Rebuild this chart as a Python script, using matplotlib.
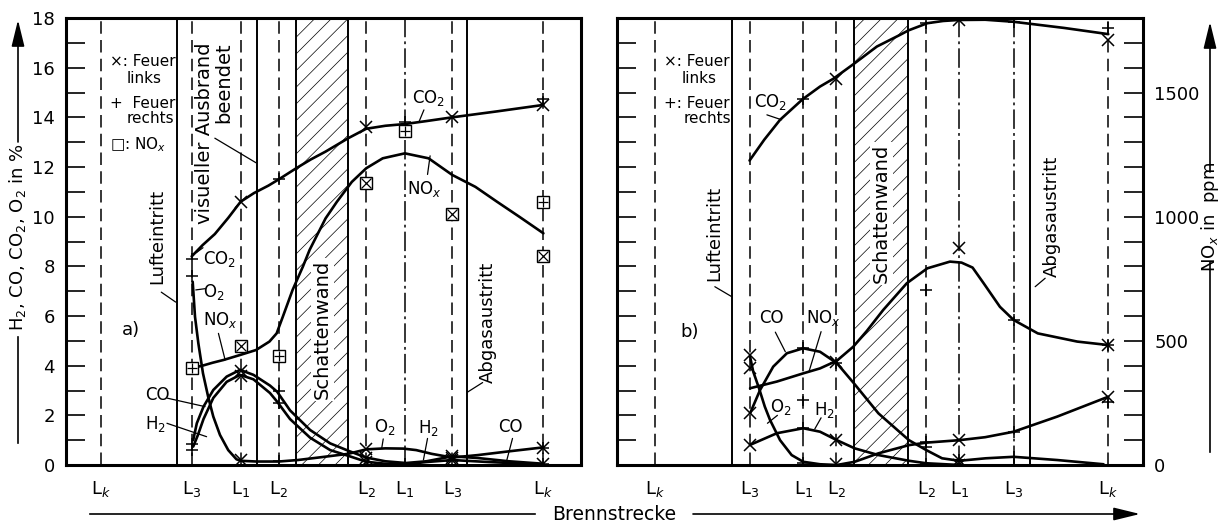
import matplotlib
matplotlib.use("Agg")
import matplotlib.pyplot as plt
from matplotlib.lines import Line2D
from matplotlib.patches import FancyArrowPatch

plt.rcParams["font.family"] = ["DejaVu Sans"]
plt.rcParams["hatch.linewidth"] = 0.5
plt.rcParams["lines.scale_dashes"] = False

# measuring stations along the Brennstrecke (box width = 0..100)
st_names = ["L$_k$", "L$_3$", "L$_1$", "L$_2$", "L$_2$", "L$_1$", "L$_3$", "L$_k$"]
st_a = [6.8, 24.4, 33.9, 41.3, 58.3, 65.8, 75.0, 92.7]
st_b = [7.3, 25.2, 35.4, 41.7, 58.8, 65.1, 75.4, 93.4]

luft_a, vis_a, abgas_a, wall_a = 21.5, 37.1, 77.9, (44.7, 54.8)
luft_b, abgas_b, wall_b = 21.9, 78.5, (45.1, 55.4)

# ---- a) curves, % (NOx in ppm)
co2_a_x = [24.4, 26.5, 28.9, 31.5, 33.9, 36.5, 39.3, 41.3, 44.7, 47.5, 50.4, 54.8, 58.3, 62.0, 65.8, 70.0, 75.0, 83.7, 92.7]
co2_a_y = [8.4, 8.85, 9.3, 9.95, 10.6, 10.95, 11.25, 11.5, 11.95, 12.3, 12.62, 13.16, 13.54, 13.66, 13.73, 13.85, 14.0, 14.24, 14.5]
nox_a_x = [24.4, 26.5, 28.5, 30.6, 33.8, 36.9, 39.5, 40.9, 42.1, 44.0, 46.0, 47.3, 50.4, 52.6, 55.5, 58.3, 61.5, 65.8, 70.4, 75.0, 79.5, 83.7, 88.0, 92.7]
nox_a_y = [390, 400, 412, 423, 443, 463, 497, 530, 597, 705, 799, 866, 993, 1060, 1140, 1195, 1235, 1255, 1235, 1168, 1120, 1060, 1000, 933]
o2_a_x = [24.6, 25.05, 25.7, 26.6, 27.6, 28.6, 29.9, 31.5, 33.1, 33.9, 37.0, 41.3, 45.0, 49.0, 54.8, 58.3, 62.0, 65.5, 68.0, 71.0, 75.0, 80.0, 86.0, 92.7]
o2_a_y = [7.38, 5.97, 4.9, 3.69, 2.75, 1.95, 1.21, 0.6, 0.23, 0.17, 0.14, 0.14, 0.2, 0.3, 0.45, 0.63, 0.67, 0.66, 0.6, 0.45, 0.3, 0.4, 0.55, 0.71]
co_a_x = [24.7, 25.4, 26.7, 28.6, 31.2, 33.8, 36.4, 39.6, 41.0, 43.5, 47.4, 51.3, 55.1, 58.3, 62.0, 66.0, 70.0, 75.0, 80.0, 86.0, 92.7]
co_a_y = [1.0, 1.68, 2.35, 3.02, 3.56, 3.83, 3.63, 3.2, 2.95, 2.2, 1.41, 0.87, 0.55, 0.3, 0.15, 0.08, 0.15, 0.35, 0.28, 0.15, 0.05]
h2_a_x = [24.7, 25.6, 26.7, 28.6, 31.2, 33.8, 36.4, 39.6, 41.0, 43.5, 47.4, 51.3, 55.1, 58.3, 62.0, 66.0, 70.0, 75.0, 82.0, 92.7]
h2_a_y = [0.74, 1.2, 1.85, 2.7, 3.35, 3.63, 3.45, 2.9, 2.55, 1.85, 1.1, 0.6, 0.35, 0.13, 0.05, 0.03, 0.12, 0.2, 0.12, 0.02]

# a) measured points: station index + value
a_links_st = [2, 2, 2, 2, 4, 4, 4, 4, 6, 6, 6, 6, 7, 7, 7]
a_links_val = [10.6, 3.8, 3.6, 0.2, 13.6, 0.63, 0.28, 0.13, 14.0, 0.35, 0.27, 0.2, 14.5, 0.7, 0.05]
a_rechts_st = [1, 1, 1, 1, 3, 3, 3, 3, 5, 5, 7, 7, 7]
a_rechts_val = [8.3, 7.6, 0.85, 0.6, 11.5, 3.0, 2.5, 0.15, 13.8, 0.05, 14.75, 0.7, 0.05]
a_nox_links_st = [2, 4, 6, 7]
a_nox_links_val = [480, 1135, 1010, 840]
a_nox_rechts_st = [1, 3, 5, 7]
a_nox_rechts_val = [390, 440, 1345, 1060]

# ---- b) curves
co2_b_x = [25.2, 28.0, 31.0, 35.3, 38.6, 41.1, 45.2, 49.4, 53.8, 55.4, 59.0, 62.0, 64.9, 70.0, 75.3, 85.0, 93.4]
co2_b_y = [12.26, 13.1, 13.9, 14.73, 15.24, 15.55, 16.18, 16.85, 17.32, 17.5, 17.79, 17.88, 17.92, 17.93, 17.85, 17.6, 17.35]
nox_b_x = [25.3, 30.4, 35.4, 38.6, 41.8, 44.9, 47.5, 50.6, 55.1, 59.0, 63.3, 65.5, 67.6, 69.7, 72.8, 75.4, 80.0, 87.5, 93.4]
nox_b_y = [309, 336, 369, 389, 420, 476, 540, 624, 732, 792, 819, 815, 795, 732, 637, 584, 530, 497, 483]
co_b_x = [25.3, 27.2, 29.7, 32.3, 35.4, 38.6, 41.8, 45.0, 49.7, 55.5, 58.8, 61.8, 65.1, 70.1, 75.4, 83.7, 92.5]
co_b_y = [2.08, 3.02, 3.96, 4.5, 4.7, 4.56, 4.1, 3.3, 2.08, 1.0, 0.6, 0.27, 0.17, 0.27, 0.33, 0.2, 0.03]
o2_b_x = [25.3, 25.9, 27.0, 28.1, 29.1, 31.0, 33.2, 35.4, 38.6, 41.8, 45.2, 49.7, 55.5, 58.8, 65.1, 70.0, 75.4, 83.7, 93.4]
o2_b_y = [4.36, 3.76, 3.09, 2.35, 1.81, 1.0, 0.4, 0.13, 0.03, 0.0, 0.13, 0.47, 0.8, 0.9, 1.0, 1.12, 1.34, 1.95, 2.75]
h2_b_x = [25.3, 30.4, 35.4, 38.6, 41.8, 45.2, 49.7, 55.5, 58.8, 65.1]
h2_b_y = [0.81, 1.28, 1.48, 1.34, 1.0, 0.67, 0.4, 0.17, 0.07, 0.0]

b_links_st = [1, 1, 1, 1, 3, 3, 3, 3, 5, 5, 5, 5, 7, 7]
b_links_val = [4.43, 3.89, 2.08, 0.81, 15.55, 4.15, 1.0, 0.05, 17.92, 1.0, 0.2, 0.02, 17.12, 2.75]
b_rechts_st = [2, 2, 2, 2, 2, 3, 4, 4, 4, 4, 5, 6, 6, 6, 6, 7, 7]
b_rechts_val = [14.73, 4.7, 2.62, 1.48, 0.1, 4.1, 17.79, 0.94, 0.74, 0.03, 0.2, 17.85, 1.34, 0.33, 0.0, 17.58, 2.55]
b_nox_links_st = [5, 7]
b_nox_links_val = [873, 483]
b_nox_rechts_st = [4, 6, 7]
b_nox_rechts_val = [705, 584, 483]

DASH = (0, (9, 4.5))
DASHDOT = (0, (14, 3, 2, 3))


def lead(ax, p0, p1):
    ax.annotate("", xy=p1, xytext=p0,
                arrowprops=dict(arrowstyle="-", lw=0.9, color="k", shrinkA=0, shrinkB=0))


def frame(ax, st, luft, abgas, wall, dashdot):
    ax.set_xlim(0, 100)
    ax.set_ylim(0, 18)
    ax.set_yticks(range(0, 19, 2))
    ax.set_yticks(range(1, 18, 2), minor=True)
    ax.tick_params(axis="y", which="both", direction="in", length=14, width=1.2,
                   left=True, right=True, labelsize=13, pad=8)
    ax.set_xticks(st)
    ax.set_xticklabels(st_names)
    ax.tick_params(axis="x", length=0, pad=10, labelsize=13)
    for s in ax.spines.values():
        s.set_linewidth(2.2)
    for i, x in enumerate(st):
        ax.axvline(x, color="k", lw=1.1, ls=DASHDOT if i in dashdot else DASH, zorder=1)
    for x in (luft, abgas):
        ax.axvline(x, color="k", lw=1.4, zorder=1)
    ax.axvspan(wall[0], wall[1], facecolor="none", edgecolor="k", hatch="//", lw=1.4, zorder=1)


def curve(ax, x, y):
    ax.plot(x, y, color="k", lw=1.9, solid_joinstyle="round", solid_capstyle="round", zorder=3)


def points(ax, st, idx, vals, marker, ms=8):
    ax.plot([st[i] for i in idx], vals, ls="none", marker=marker, ms=ms, mew=1.1,
            color="k", mfc="none", zorder=4)


def boxed(ax, st, idx, vals, inner):
    xs = [st[i] for i in idx]
    ax.plot(xs, vals, ls="none", marker="s", ms=9, mew=1.0, color="k", mfc="white", zorder=4)
    ax.plot(xs, vals, ls="none", marker=inner, ms=6.5, mew=0.9, color="k", zorder=5)


fig = plt.figure(figsize=(12.25, 5.25), dpi=100)
ax_a = fig.add_axes([66 / 1225, 60 / 525, 515 / 1225, 447 / 525])
ax_b = fig.add_axes([617 / 1225, 60 / 525, 526 / 1225, 447 / 525])

# ---------------- a)
frame(ax_a, st_a, luft_a, abgas_a, wall_a, dashdot=[5])
ax_a.axvline(vis_a, color="k", lw=1.4, zorder=1)
ta = ax_a.twinx()
ta.set_ylim(0, 1800)
ta.set_yticks([])
for s in ta.spines.values():
    s.set_visible(False)

curve(ax_a, co2_a_x, co2_a_y)
curve(ax_a, o2_a_x, o2_a_y)
curve(ax_a, co_a_x, co_a_y)
curve(ax_a, h2_a_x, h2_a_y)
curve(ta, nox_a_x, nox_a_y)
points(ax_a, st_a, a_links_st, a_links_val, "x")
points(ax_a, st_a, a_rechts_st, a_rechts_val, "+", ms=9)
boxed(ta, st_a, a_nox_links_st, a_nox_links_val, "x")
boxed(ta, st_a, a_nox_rechts_st, a_nox_rechts_val, "+")

ax_a.text(8.5, 16.24, "×: Feuer", fontsize=11, va="center")
ax_a.text(11.8, 15.57, "links", fontsize=11, va="center")
ax_a.text(8.5, 14.57, "+  Feuer", fontsize=11, va="center")
ax_a.text(11.8, 13.96, "rechts", fontsize=11, va="center")
ax_a.text(8.5, 12.89, "□: NO$_x$", fontsize=11, va="center")
ax_a.text(28.8, 17.0, "visueller Ausbrand\nbeendet", rotation=90, ha="center", va="top",
          multialignment="right", fontsize=14, linespacing=1.0)
lead(ax_a, (28.9, 13.16), (36.9, 12.17))
ax_a.text(17.8, 7.3, "Lufteintritt", rotation=90, ha="center", va="bottom", fontsize=13)
lead(ax_a, (18.5, 6.96), (21.3, 6.56))
ax_a.text(12.6, 5.44, "a)", fontsize=13, ha="center", va="center")
ax_a.text(29.9, 8.3, "CO$_2$", fontsize=12, ha="center", va="center")
lead(ax_a, (25.3, 8.55), (26.6, 8.75))
ax_a.text(28.6, 6.98, "O$_2$", fontsize=12, ha="center", va="center")
lead(ax_a, (25.2, 7.05), (27.0, 7.1))
ax_a.text(29.9, 5.84, "NO$_x$", fontsize=12, ha="center", va="center")
lead(ax_a, (29.6, 5.3), (30.9, 4.23))
ax_a.text(17.8, 2.81, "CO", fontsize=12, ha="center", va="center")
lead(ax_a, (19.7, 2.69), (27.0, 2.35))
ax_a.text(17.4, 1.67, "H$_2$", fontsize=12, ha="center", va="center")
lead(ax_a, (19.6, 1.68), (27.3, 1.14))
ax_a.text(49.75, 5.45, "Schattenwand", rotation=90, ha="center", va="center", fontsize=14,
          zorder=2, bbox=dict(boxstyle="square,pad=0.1", fc="white", ec="none"))
ax_a.text(70.4, 14.77, "CO$_2$", fontsize=12, ha="center", va="center")
lead(ax_a, (69.5, 14.3), (68.5, 13.8))
ax_a.text(69.5, 11.1, "NO$_x$", fontsize=12, ha="center", va="center")
lead(ax_a, (70.2, 11.7), (70.7, 12.45))
ax_a.text(81.9, 3.3, "Abgasaustritt", rotation=90, ha="center", va="bottom", fontsize=13)
lead(ax_a, (78.0, 2.94), (80.9, 3.32))
ax_a.text(61.9, 1.54, "O$_2$", fontsize=12, ha="center", va="center")
lead(ax_a, (61.6, 1.05), (61.3, 0.67))
ax_a.text(70.4, 1.48, "H$_2$", fontsize=12, ha="center", va="center")
lead(ax_a, (70.2, 1.07), (69.4, 0.2))
ax_a.text(86.2, 1.54, "CO", fontsize=12, ha="center", va="center")
lead(ax_a, (86.7, 1.07), (85.6, 0.2))

# ---------------- b)
frame(ax_b, st_b, luft_b, abgas_b, wall_b, dashdot=[5, 6])
ax_b.tick_params(axis="y", which="both", labelleft=False, right=False)
tb = ax_b.twinx()
tb.set_ylim(0, 1800)
tb.set_yticks([0, 500, 1000, 1500])
tb.set_yticks(range(100, 1800, 100), minor=True)
tb.tick_params(axis="y", which="both", direction="in", length=14, width=1.2,
               labelsize=13, pad=8)
for s in tb.spines.values():
    s.set_visible(False)

curve(ax_b, co2_b_x, co2_b_y)
curve(ax_b, co_b_x, co_b_y)
curve(ax_b, o2_b_x, o2_b_y)
curve(ax_b, h2_b_x, h2_b_y)
curve(tb, nox_b_x, nox_b_y)
points(ax_b, st_b, b_links_st, b_links_val, "x")
points(ax_b, st_b, b_rechts_st, b_rechts_val, "+", ms=9)
points(tb, st_b, b_nox_links_st, b_nox_links_val, "x")
points(tb, st_b, b_nox_rechts_st, b_nox_rechts_val, "+", ms=9)

ax_b.text(8.9, 16.24, "×: Feuer", fontsize=11, va="center")
ax_b.text(12.3, 15.57, "links", fontsize=11, va="center")
ax_b.text(8.9, 14.57, "+: Feuer", fontsize=11, va="center")
ax_b.text(12.6, 13.96, "rechts", fontsize=11, va="center")
ax_b.text(29.1, 14.63, "CO$_2$", fontsize=12, ha="center", va="center")
lead(ax_b, (28.5, 14.1), (31.3, 13.9))
ax_b.text(18.4, 7.4, "Lufteintritt", rotation=90, ha="center", va="bottom", fontsize=13)
lead(ax_b, (18.6, 7.18), (21.8, 6.78))
ax_b.text(13.8, 5.37, "b)", fontsize=13, ha="center", va="center")
ax_b.text(50.3, 10.14, "Schattenwand", rotation=90, ha="center", va="center", fontsize=14,
          zorder=2, bbox=dict(boxstyle="square,pad=0.1", fc="white", ec="none"))
ax_b.text(82.6, 7.58, "Abgasaustritt", rotation=90, ha="center", va="bottom", fontsize=13)
lead(ax_b, (79.5, 7.18), (81.4, 7.52))
ax_b.text(29.3, 5.9, "CO", fontsize=12, ha="center", va="center")
lead(ax_b, (30.1, 5.35), (32.0, 4.56))
ax_b.text(39.2, 5.9, "NO$_x$", fontsize=12, ha="center", va="center")
lead(ax_b, (38.8, 5.37), (36.5, 3.76))
ax_b.text(31.2, 2.35, "O$_2$", fontsize=12, ha="center", va="center")
lead(ax_b, (30.5, 2.0), (28.6, 1.68))
ax_b.text(39.5, 2.2, "H$_2$", fontsize=12, ha="center", va="center")
lead(ax_b, (38.8, 1.9), (37.6, 1.45))

# ---------------- axis captions with arrows
W, H = 1225, 525
arrow = dict(arrowstyle="-|>,head_length=0.9,head_width=0.22", lw=1.2, color="k",
             mutation_scale=18, shrinkA=0, shrinkB=0)

xl = 18 / W
fig.text(xl, 1 - 237 / H, "H$_2$, CO, CO$_2$, O$_2$ in %", rotation=90,
         ha="center", va="center", fontsize=13)
fig.add_artist(Line2D([xl, xl], [1 - 443 / H, 1 - 337 / H], color="k", lw=1.2))
fig.add_artist(FancyArrowPatch((xl, 1 - 142 / H), (xl, 1 - 20 / H),
                               transform=fig.transFigure, **arrow))

xr = 1210 / W
fig.text(xr, 1 - 217 / H, "NO$_x$ in  ppm", rotation=90, ha="center", va="center", fontsize=13)
fig.add_artist(Line2D([xr, xr], [1 - 452 / H, 1 - 262 / H], color="k", lw=1.2))
fig.add_artist(FancyArrowPatch((xr, 1 - 172 / H), (xr, 1 - 22 / H),
                               transform=fig.transFigure, **arrow))

yb = 1 - 514 / H
fig.text(614 / W, yb, "Brennstrecke", ha="center", va="center", fontsize=13.5)
fig.add_artist(Line2D([90 / W, 535 / W], [yb, yb], color="k", lw=1.2))
fig.add_artist(FancyArrowPatch((693 / W, yb), (1140 / W, yb),
                               transform=fig.transFigure, **arrow))

fig.savefig("out.png", dpi=100, facecolor="white")
